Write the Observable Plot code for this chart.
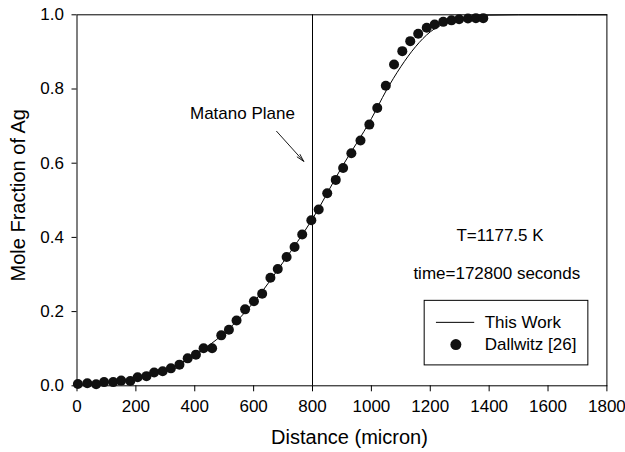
<!DOCTYPE html>
<html>
<head>
<meta charset="utf-8">
<script src="https://cdn.jsdelivr.net/npm/d3@7"></script>
<script src="https://cdn.jsdelivr.net/npm/@observablehq/plot@0.6"></script>
<style>
  html, body { margin: 0; padding: 0; background: white; }
</style>
</head>
<body>
<div id="chart"></div>
<script>
// Dallwitz [26] measured points
const distance = [3,35,65,92,123,150,181,206,236,262,291,319,348,376,404,430,459,490,516,542,571,601,629,657,682,712,739,765,796,821,850,879,904,932,963,993,1020,1049,1077,1105,1132,1159,1188,1215,1244,1272,1298,1328,1355,1380];
const moleFraction = [0.005,0.007,0.004,0.010,0.010,0.014,0.013,0.023,0.026,0.036,0.039,0.047,0.057,0.074,0.084,0.101,0.101,0.136,0.151,0.176,0.206,0.228,0.248,0.291,0.315,0.347,0.374,0.408,0.446,0.475,0.519,0.555,0.587,0.627,0.661,0.704,0.749,0.809,0.866,0.902,0.929,0.949,0.965,0.974,0.981,0.985,0.988,0.990,0.991,0.991];

// This Work (model curve)
const lineDistance = [0,100,200,300,400,500,600,700,800,900,1000,1050,1100,1150,1200,1250,1300,1350,1400,1500,1600,1800];
const lineFraction = [0.002,0.009,0.021,0.042,0.083,0.142,0.225,0.333,0.45,0.59,0.72,0.795,0.86,0.914,0.954,0.977,0.99,0.996,0.999,1,1,1];

// Matano plane position
const matanoX = [800];

// Tick labels
const xTicks = [0,200,400,600,800,1000,1200,1400,1600,1800];
const yTicks = [0,0.2,0.4,0.6,0.8,1.0];

// Texts
const xLabel = "Distance (micron)";
const yLabel = "Mole Fraction of Ag";
const legendLabels = ["This Work", "Dallwitz [26]"];
const notes = ["T=1177.5 K", "time=172800 seconds"];
const matanoLabel = "Matano Plane";

// Layout for annotations (data units)
const layout = {
  notes: [{x: 1437, y: 0.405}, {x: 1426, y: 0.302}],
  matano: {x: 562, y: 0.734},
  arrow: {x1: 678, y1: 0.686, x2: 770, y2: 0.605},
  legendBox: {x1: 1181, x2: 1737, y1: 0.055, y2: 0.229},
  legendLine: {x1: 1221, x2: 1351, y: 0.171},
  legendDot: {x: 1287, y: 0.111},
  legendText: {x: 1385, ys: [0.171, 0.111]}
};

const points = distance.map((d, i) => ({d, f: moleFraction[i]}));
const curve = lineDistance.map((d, i) => ({d, f: lineFraction[i]}));

const chart = Plot.plot({
  width: 625,
  height: 452,
  marginLeft: 76.5,
  marginRight: 18.6,
  marginTop: 14.3,
  marginBottom: 66.7,
  style: {fontFamily: "'Liberation Sans', Arial, sans-serif", fontSize: "17px", color: "black", background: "white"},
  x: {domain: [0, 1800], label: null},
  y: {domain: [0, 1], label: null},
  marks: [
    Plot.frame({stroke: "black", strokeWidth: 1}),
    Plot.axisX({ticks: xTicks, tickSize: 6, tickPadding: 8, tickFormat: d => String(d), label: null, fontSize: 17}),
    Plot.axisY({ticks: yTicks, tickSize: 5, tickPadding: 8, tickFormat: d3.format(".1f"), label: null, fontSize: 17}),
    Plot.ruleX(matanoX, {y1: 0, y2: 1, stroke: "black", strokeWidth: 1}),
    Plot.line(curve, {x: "d", y: "f", curve: "monotone-x", stroke: "black", strokeWidth: 1}),
    Plot.dot(points, {x: "d", y: "f", r: 5, fill: "#111", stroke: "none"}),
    Plot.text([matanoLabel], {x: layout.matano.x, y: layout.matano.y, text: d => d, textAnchor: "middle", fontSize: 17}),
    Plot.arrow([layout.arrow], {x1: "x1", y1: "y1", x2: "x2", y2: "y2", stroke: "black", strokeWidth: 0.9, headLength: 13, headAngle: 28}),
    Plot.text(notes, {x: (d, i) => layout.notes[i].x, y: (d, i) => layout.notes[i].y, text: d => d, textAnchor: "middle", fontSize: 17}),
    Plot.rect([layout.legendBox], {x1: "x1", x2: "x2", y1: "y1", y2: "y2", fill: "white", stroke: "black", strokeWidth: 1}),
    Plot.ruleY([layout.legendLine], {x1: "x1", x2: "x2", y: "y", stroke: "black", strokeWidth: 1}),
    Plot.dot([layout.legendDot], {x: "x", y: "y", r: 5.5, fill: "#111", stroke: "none"}),
    Plot.text(legendLabels, {x: layout.legendText.x, y: (d, i) => layout.legendText.ys[i], text: d => d, textAnchor: "start", fontSize: 17}),
    Plot.text([xLabel], {frameAnchor: "bottom", lineAnchor: "middle", textAnchor: "middle", dx: 7.5, dy: 52, fontSize: 20}),
    Plot.text([yLabel], {frameAnchor: "left", lineAnchor: "middle", textAnchor: "middle", rotate: -90, dx: -58.5, dy: -5, fontSize: 20})
  ]
});

document.getElementById("chart").appendChild(chart);
</script>
</body>
</html>
